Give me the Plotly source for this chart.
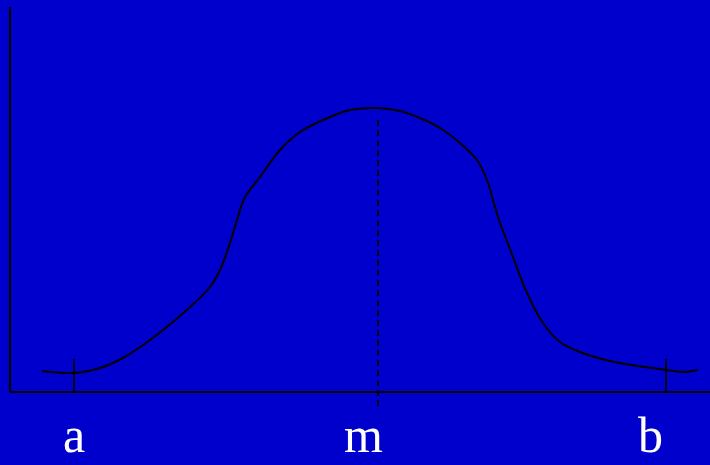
import plotly.graph_objects as go

## curve values (x along the axis, y height above the axis)
curve_x = [32, 64, 90, 113, 140, 170, 200, 210, 220, 227, 235, 250, 270, 290, 320, 340, 367,
           390, 410, 430, 450, 467, 477, 483, 489, 495, 503, 517, 533, 550, 570, 600, 656, 673, 688]
curve_y = [21, 19, 24, 34, 52, 76, 105, 122, 149, 172, 195, 215, 242, 260, 275, 282, 284,
           281, 274, 264, 249, 232, 212, 192, 172, 156, 135, 99, 69, 50, 40, 31, 22, 20, 22]

labels = ['a', 'm', 'b']
label_x = [64, 353, 640]
tick_a = 64
tick_b = 656
mode_x = 368
tick_top = 33
mode_top = 273
mode_bottom = -14

x_end = 700
y_top = 385

bg = 'rgb(0,0,204)'

fig = go.Figure()

# axes
fig.add_trace(go.Scatter(x=[0, 0, None, 0, x_end], y=[y_top, 0, None, 0, 0], mode='lines',
                         line=dict(color='black', width=2.2), hoverinfo='skip'))
# curve
fig.add_trace(go.Scatter(x=curve_x, y=curve_y, mode='lines', line_shape='spline',
                         line=dict(color='black', width=2), hoverinfo='skip'))
# ticks at a and b
fig.add_trace(go.Scatter(x=[tick_a, tick_a, None, tick_b, tick_b], y=[0, tick_top, None, 0, tick_top],
                         mode='lines', line=dict(color='black', width=1.8), hoverinfo='skip'))
# dashed line at m
fig.add_trace(go.Scatter(x=[mode_x, mode_x], y=[mode_bottom, mode_top], mode='lines',
                         line=dict(color='black', width=1.8, dash='6px,4px'), hoverinfo='skip'))

for lab, lx in zip(labels, label_x):
    fig.add_annotation(x=lx, y=-73, text=lab, showarrow=False, xanchor='center', yanchor='bottom',
                       font=dict(family='Liberation Serif', size=50, color='white'))

fig.update_layout(
    width=710, height=465,
    margin=dict(l=0, r=0, t=0, b=0),
    paper_bgcolor=bg, plot_bgcolor=bg,
    showlegend=False,
    xaxis=dict(range=[-10, 700], visible=False, fixedrange=True),
    yaxis=dict(range=[-73, 392], visible=False, fixedrange=True),
)

fig.write_html("out.html", config={'displayModeBar': False},
               post_script="document.body.style.margin='0';document.body.style.background='rgb(0,0,204)';")
